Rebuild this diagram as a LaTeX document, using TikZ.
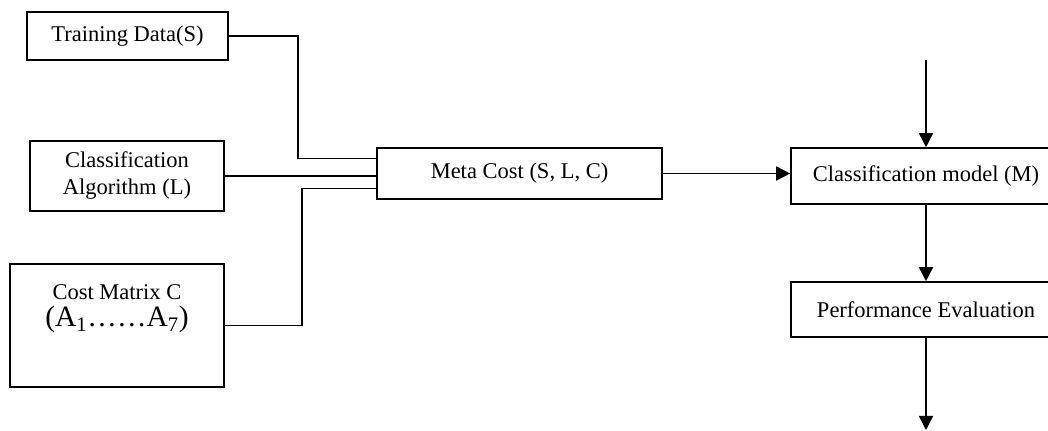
\documentclass[tikz,border=0pt]{standalone}
\usepackage{fontspec}
\setmainfont{Liberation Serif}
\usetikzlibrary{arrows.meta, positioning}

\begin{document}
\begin{tikzpicture}[
x=0.025cm, y=-0.025cm,
box/.style={draw, rectangle, line width=1.1pt, align=center, font=\fontsize{16}{19.2}\selectfont},
line/.style={line width=1.1pt},
arrow/.style={line width=1.1pt, -{Triangle[length=10pt, width=10pt]}}
]
\useasboundingbox (0,0) rectangle (1048,431);
\clip (0,0) rectangle (1048,431);

\node[box, minimum width=5.025cm, minimum height=1.2cm] (train) at (127.5,36) {Training Data(S)};

\node[box, minimum width=4.85cm, minimum height=1.75cm] (algo) at (127,176)
{Classification\\
Algorithm (L)};

\node[box, minimum width=5.35cm, minimum height=3.075cm] (cost) at (117,325.5) {};
\node[align=center, font=\fontsize{16}{19.2}\selectfont, below=0.42cm of cost.north] (costtext)
{Cost Matrix C\\
{\fontsize{21}{24}\selectfont (A\textsubscript{1}……A\textsubscript{7})}};

\node[box, minimum width=7.125cm, minimum height=1.275cm] (meta) at (519.5,173.5) {Meta Cost (S, L, C)};

\node[box, minimum width=6.75cm, minimum height=1.4cm] (model) at (926,176) {Classification model (M)};

\node[box, minimum width=6.75cm, minimum height=1.375cm] (perf) at (926,309.5) {Performance Evaluation};

\coordinate (top) at (926,60);
\coordinate (bottom) at (926,430);

\draw[line] (train.east) -- ++(69,0) |- ([yshift=0.375cm]meta.west);
\draw[line] (algo.east) -- (algo.east -| meta.west);
\draw[line] (cost.east) -- ++(77,0) |- ([yshift=-0.375cm]meta.west);
\draw[arrow] (meta.east) -- (meta.east -| model.west);
\draw[arrow] (top) -- (model.north);
\draw[arrow] (model.south) -- (perf.north);
\draw[arrow] (perf.south) -- (bottom);

\end{tikzpicture}
\end{document}
